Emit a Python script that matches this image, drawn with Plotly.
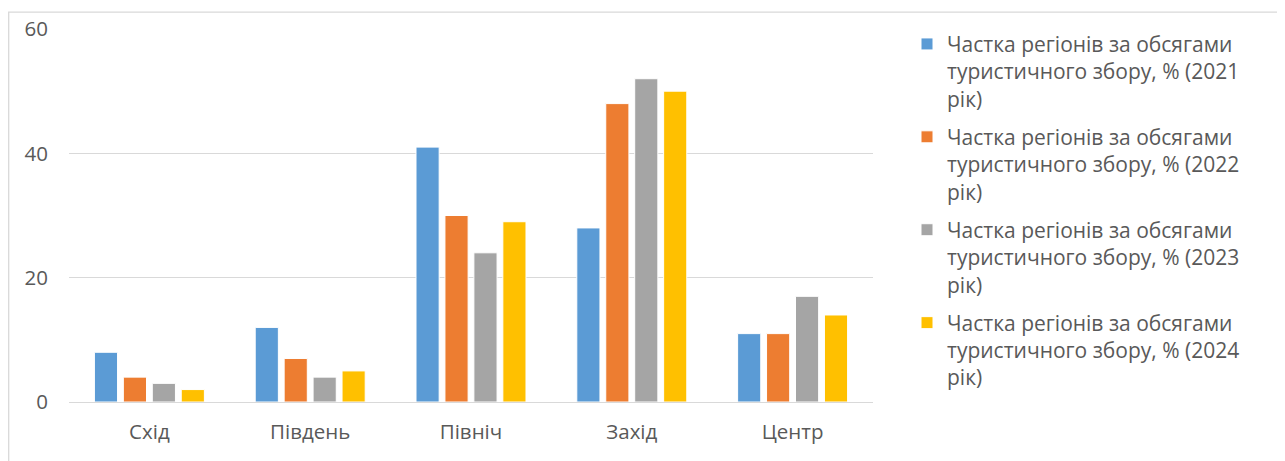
import plotly.graph_objects as go

categories = ["Схід", "Південь", "Північ", "Захід", "Центр"]
series_names = [
    "Частка регіонів за обсягами<br>туристичного збору, % (2021<br>рік)",
    "Частка регіонів за обсягами<br>туристичного збору, % (2022<br>рік)",
    "Частка регіонів за обсягами<br>туристичного збору, % (2023<br>рік)",
    "Частка регіонів за обсягами<br>туристичного збору, % (2024<br>рік)",
]
values_2021 = [8, 12, 41, 28, 11]
values_2022 = [4, 7, 30, 48, 11]
values_2023 = [3, 4, 24, 52, 17]
values_2024 = [2, 5, 29, 50, 14]
colors = ["#5B9BD5", "#ED7D31", "#A5A5A5", "#FFC000"]
y_ticks = [0, 20, 40, 60]

# page is rendered with an 8px body margin
W, H = 1277, 453
L, R, T, B = 61, 865, 20.5, 394

fig = go.Figure()
for i, (name, vals) in enumerate(zip(series_names, [values_2021, values_2022, values_2023, values_2024])):
    fig.add_trace(go.Bar(
        x=categories, y=vals, name=name, legendgroup=f"g{i}",
        marker=dict(color=colors[i], line=dict(color="white", width=1)),
        hoverinfo="x+y",
    ))

font_family = "Open Sans, Noto Sans, sans-serif"
text_color = "#595959"

fig.update_layout(
    width=W, height=H,
    margin=dict(l=L, r=W - R, t=T, b=H - B, pad=0, autoexpand=False),
    paper_bgcolor="white", plot_bgcolor="white",
    barmode="group", bargap=0.28, bargroupgap=0.2,
    font=dict(family=font_family, color=text_color, size=18),
    legend=dict(
        x=(899 - L) / (R - L), xanchor="left",
        y=1.014, yanchor="top",
        font=dict(size=21, color=text_color),
        valign="top", tracegroupgap=8,
        bgcolor="rgba(0,0,0,0)",
        maxheight=1,
    ),
    showlegend=True,
)
fig.update_xaxes(
    showgrid=False, showline=False, zeroline=False,
    ticks="outside", ticklen=11, tickcolor="rgba(0,0,0,0)",
    tickfont=dict(size=20.5, color=text_color),
)
fig.update_yaxes(
    range=[0, 60], tickvals=y_ticks, showgrid=True, gridcolor="#D9D9D9", gridwidth=1.3,
    zeroline=True, zerolinecolor="#D9D9D9", zerolinewidth=1.3, showline=False,
    ticks="outside", ticklen=16, tickcolor="rgba(0,0,0,0)",
    tickfont=dict(size=20.5, color=text_color),
)
# outer chart-area border
fig.add_shape(
    type="rect", xref="paper", yref="paper",
    x0=(0.7 - L) / (R - L), x1=1.6,
    y0=-0.5, y1=(B - 3.7) / (B - T),
    line=dict(color="#D9D9D9", width=1.3), fillcolor="rgba(0,0,0,0)", layer="below",
)

fig.write_html("out.html")
